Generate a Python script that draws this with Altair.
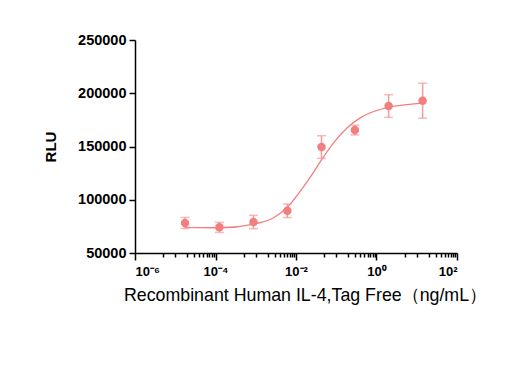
import altair as alt
import pandas as pd

# measured points
conc = [1.75e-5, 1.25e-4, 8.8e-4, 6.1e-3, 0.043, 0.29, 2.0, 14.0]
rlu_mean = [78200, 74100, 79100, 89700, 149500, 165500, 188000, 193000]
rlu_sd = [5200, 4700, 6300, 6400, 10600, 4600, 10600, 16400]

# fitted curve
curve_x = [1.75e-5, 1.29e-4, 9.06e-4, 2.84e-3, 6.32e-3, 0.0158, 0.028, 0.0418,
           0.0879, 0.185, 0.412, 0.867, 1.93, 4.82, 14.0]
curve_y = [74100, 73700, 77200, 83300, 93700, 112900, 126500, 136700,
           153900, 167400, 177400, 182900, 186800, 189000, 190800]

major_ticks = [1e-6, 1e-4, 1e-2, 1, 100]
minor_ticks = [5e-6, 1e-5, 2e-5, 3e-5, 4e-5, 5e-5, 6e-5, 7e-5, 8e-5, 9e-5,
               5e-4, 1e-3, 2e-3, 3e-3, 4e-3, 5e-3, 6e-3, 7e-3, 8e-3, 9e-3,
               5e-2, 1e-1, 2e-1, 3e-1, 4e-1, 5e-1, 6e-1, 7e-1, 8e-1, 9e-1,
               5, 10, 20, 30, 40, 50, 60, 70, 80, 90]
major_labels = ["10⁻⁶", "10⁻⁴", "10⁻²", "10⁰", "10²"]
y_ticks = [50000, 100000, 150000, 200000, 250000]

pts = pd.DataFrame({"conc": conc, "mean": rlu_mean, "sd": rlu_sd})
pts["lo"] = pts["mean"] - pts["sd"]
pts["hi"] = pts["mean"] + pts["sd"]
curve = pd.DataFrame({"conc": curve_x, "rlu": curve_y})

COL = "#F27E7E"
ERR = "#F29C9C"
FONT = "Liberation Sans"
XTITLE = "Recombinant Human IL-4,Tag Free（ng/mL）"
W, H = 322, 213

xscale = alt.Scale(type="log", domain=[1e-6, 100])
yscale = alt.Scale(domain=[50000, 250000], nice=False, zero=False)

# label (and long tick) only on the major decades
is_major = ("abs(log(datum.value) / LN10 - round(log(datum.value) / LN10)) < 0.001"
            " && abs(round(log(datum.value) / LN10)) % 2 == 0")
label_expr = "!(" + is_major + ") ? '' : " + " : ".join(
    f"datum.value < {v*3:g} ? '{l}'" for v, l in zip(major_ticks[:-1], major_labels[:-1])
) + f" : '{major_labels[-1]}'"

x_axis = alt.Axis(values=sorted(major_ticks + minor_ticks), labelExpr=label_expr,
                  tickSize={"condition": {"test": is_major, "value": 7}, "value": 4},
                  labelOverlap=False,
                  grid=False, domainColor="black",
                  tickColor="black", domainWidth=1.5, tickWidth=1.5,
                  labelFont=FONT, labelFontWeight="bold", labelFontSize=13,
                  labelColor="black", labelPadding=5, titleFont=FONT,
                  titleFontWeight="normal", titleFontSize=17.8,
                  titleColor="black", titlePadding=8, titleX=W / 2 + 9)
y_axis = alt.Axis(values=y_ticks, format="d", tickSize=6, grid=False, domainColor="black",
                  tickColor="black", domainWidth=1.5, tickWidth=1.5,
                  labelFont=FONT, labelFontWeight="bold", labelFontSize=14.5,
                  labelColor="black", labelPadding=3, titleFont=FONT,
                  titleFontWeight="bold", titleFontSize=15,
                  titleColor="black", titlePadding=19)


def X(field="conc:Q"):
    return alt.X(field, scale=xscale, title=XTITLE, axis=x_axis)


def Y(field):
    return alt.Y(field, scale=yscale, title="RLU", axis=y_axis)


points = alt.Chart(pts).mark_circle(size=72, color=COL, opacity=1).encode(
    x=X(), y=Y("mean:Q"))

line = alt.Chart(curve).mark_line(color=COL, strokeWidth=1.3, interpolate="monotone").encode(
    x=X(), y=Y("rlu:Q"))

err = alt.Chart(pts).mark_rule(color=ERR, strokeWidth=1.5).encode(
    x=X(), y=Y("lo:Q"), y2="hi:Q")
cap_lo = alt.Chart(pts).mark_tick(color=ERR, orient="horizontal", size=9, thickness=1.5).encode(
    x=X(), y=Y("lo:Q"))
cap_hi = alt.Chart(pts).mark_tick(color=ERR, orient="horizontal", size=9, thickness=1.5).encode(
    x=X(), y=Y("hi:Q"))

chart = alt.layer(line, err, cap_lo, cap_hi, points).properties(
    width=W, height=H, padding={"left": 35, "top": 24, "right": 5, "bottom": 5}
).configure(background="white").configure_view(stroke="transparent", strokeWidth=0)

chart.save("out.html", embed_options={"renderer": "svg", "actions": False})
